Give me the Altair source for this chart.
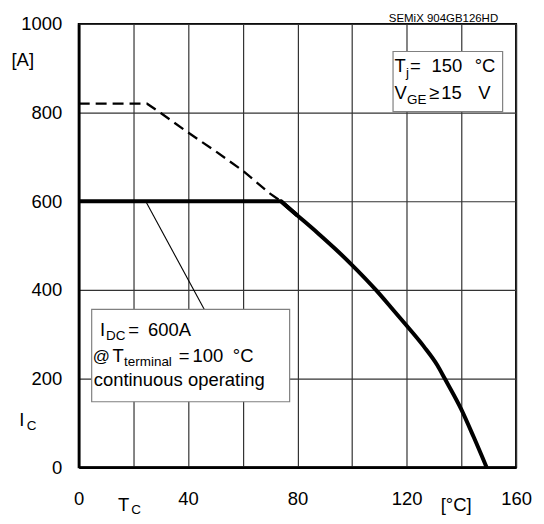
import altair as alt
import pandas as pd

FONT = "Liberation Sans"

# ---- data ----
# thick solid curve (flat part, plus knee segment)
tc_flat = [0, 74, 80]
ic_flat = [600, 600, 568]
# thick solid curve (derating part)
tc_curve = [74, 80, 87.5, 93.6, 100, 108.7, 114.2, 120, 126.3, 131.2, 133.9, 140, 144.5, 149.2]
ic_curve = [600, 568, 528, 494, 456, 400, 361, 319, 272, 230, 200, 130, 68, 0]
# dashed curve
tc_dash = [0, 25, 30, 40, 50, 60, 70, 74]
ic_dash = [820, 820, 799, 755, 713, 669, 617, 600]
# leader line from the 600 A line to the note box
tc_lead = [24.5, 46]
ic_lead = [600, 355]

x_ticks = [0, 20, 40, 60, 80, 100, 120, 140, 160]
y_ticks = [0, 200, 400, 600, 800, 1000]

x_axis = alt.Axis(values=x_ticks, labelExpr="datum.value % 40 === 0 ? datum.label : ''",
                  format="d", grid=True, ticks=False, tickSize=0, domain=True,
                  domainColor="black", domainWidth=2.7, labelFontSize=18.5, labelFont=FONT,
                  labelColor="black", labelPadding=22, labelFlush=False, labelOverlap=False,
                  gridColor="#333333", gridWidth=1.2, title=None)
y_axis = alt.Axis(values=y_ticks, format="d", grid=True, ticks=False, tickSize=0, domain=True,
                  domainColor="black", domainWidth=2.7, labelFontSize=18.5, labelFont=FONT,
                  labelColor="black", labelPadding=17, labelFlush=False, labelOverlap=False,
                  gridColor="#333333", gridWidth=1.2, title=None)

X = alt.X("T:Q", scale=alt.Scale(domain=[0, 160], nice=False, zero=False), axis=x_axis)
Y = alt.Y("I:Q", scale=alt.Scale(domain=[0, 1000], nice=False), axis=y_axis)


def line_layer(ts, iv, **mark):
    return alt.Chart(pd.DataFrame({"T": ts, "I": iv})).mark_line(**mark).encode(x=X, y=Y)


flat = line_layer(tc_flat, ic_flat, color="black", strokeWidth=4, strokeCap="butt",
                  strokeJoin="miter")
curve = line_layer(tc_curve, ic_curve, color="black", strokeWidth=4, strokeCap="butt",
                   interpolate="monotone")
dash = line_layer(tc_dash, ic_dash, color="black", strokeWidth=2.3, strokeDash=[11, 6],
                  strokeCap="butt")
lead = line_layer(tc_lead, ic_lead, color="black", strokeWidth=1.1)

ONE = alt.Data(values=[{"k": 1}])


def box(x1, x2, y1, y2):
    return alt.Chart(ONE).mark_rect(fill="white", stroke="#808080", strokeWidth=1.2).encode(
        x=alt.value(x1), x2=alt.value(x2), y=alt.value(y1), y2=alt.value(y2))


def txt(s, x, y, size=18.5, align="left"):
    return alt.Chart(ONE).mark_text(text=s, fontSize=size, font=FONT, align=align,
                                    baseline="alphabetic", color="black").encode(
        x=alt.value(x), y=alt.value(y))


SUB = 13.5

layers = [
    flat, curve, dash, lead,
    box(315.5, 425.5, 27.7, 88),
    box(13, 211.7, 286.5, 379.3),
    # title
    txt("SEMiX 904GB126HD", 421, -2, size=11.5, align="right"),
    # box 1
    txt("T", 317, 48), txt("j", 328.5, 53, size=SUB), txt("=", 332.5, 48),
    txt("150", 354, 48), txt("°C", 397.5, 48),
    txt("V", 317, 75), txt("GE", 329.5, 80.3, size=SUB), txt("≥", 351.7, 75),
    txt("15", 364, 75), txt("V", 401, 75),
    # box 2
    txt("I", 21.3, 313.7), txt("DC", 27.3, 317, size=SUB), txt("=", 49.7, 313.7),
    txt("600A", 69.5, 313.7),
    txt("@", 14, 339.5, size=17), txt("T", 34, 339.5), txt("terminal", 45.5, 343, size=SUB),
    txt("=", 100.5, 339.5), txt("100", 114.3, 339.5), txt("°C", 154.7, 339.5),
    txt("continuous operating", 15, 363.5),
    # axis titles
    txt("[A]", -67.5, 42),
    txt("I", -59.7, 403.7), txt("C", -52.3, 408, size=SUB),
    txt("T", 39.3, 488.5), txt("C", 52.7, 491.5, size=SUB),
    txt("[°C]", 363.3, 489),
]

chart = alt.layer(*layers).properties(
    width=439, height=445,
    autosize=alt.AutoSizeParams(type="none"),
    padding={"left": 71, "top": 15, "right": 20, "bottom": 48},
    background="white",
).configure_view(stroke="black", strokeWidth=2)

chart.save("out.html", embed_options={"renderer": "svg", "actions": False})
